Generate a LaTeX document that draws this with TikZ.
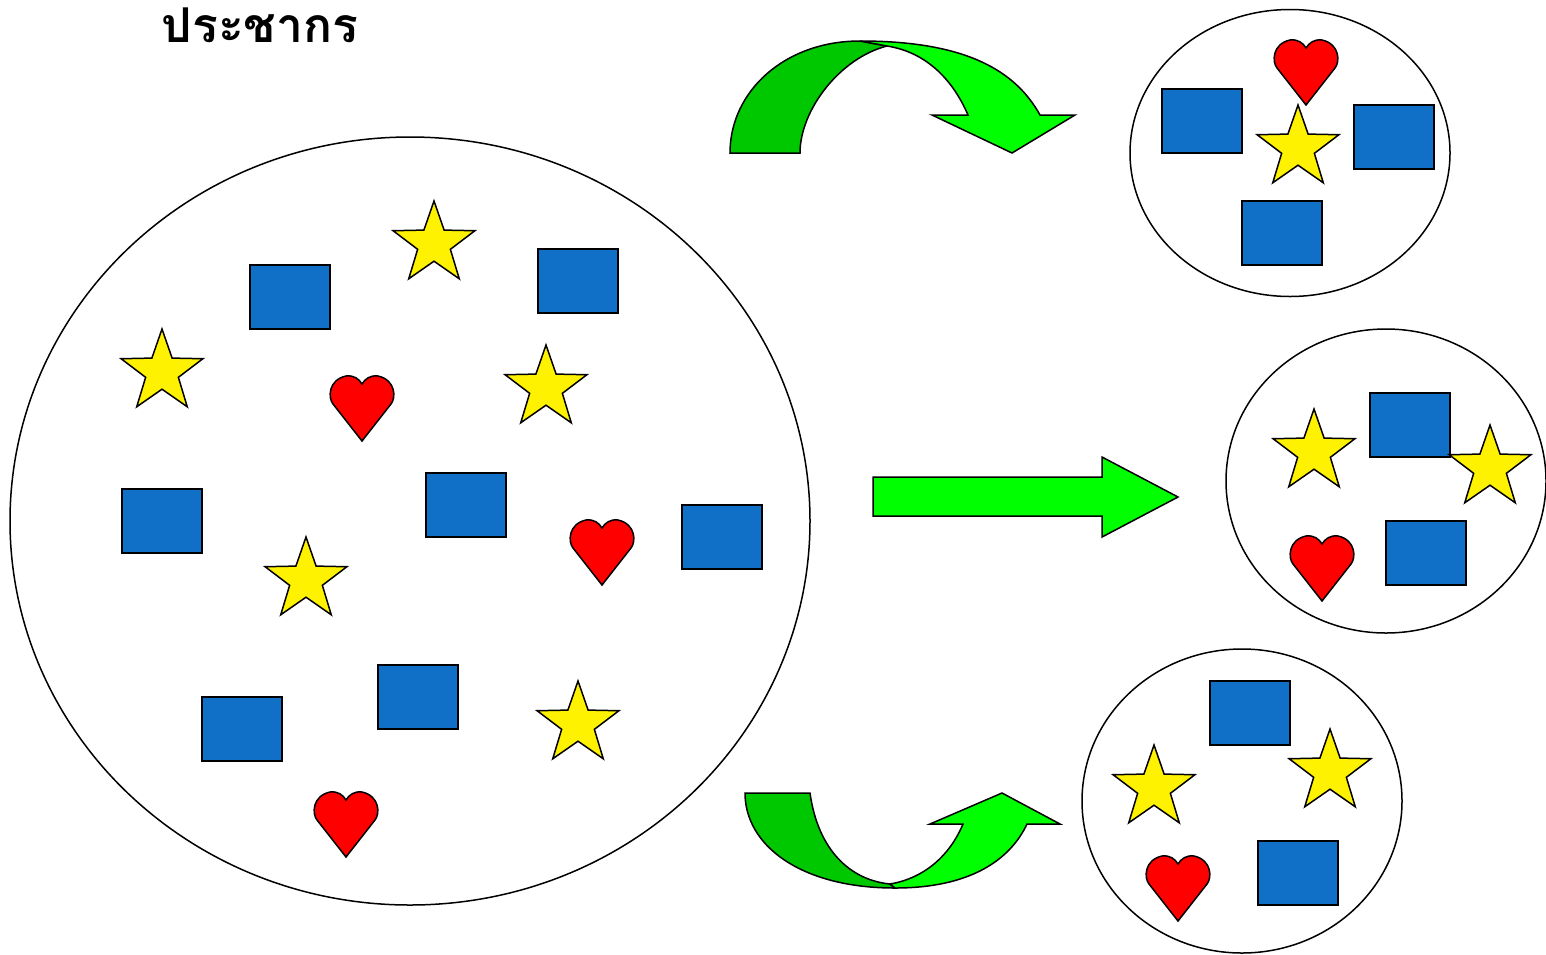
\documentclass[tikz,border=0pt]{standalone}
\usepackage{fontspec}
\newfontfamily\thaifont[Script=Thai]{Loma}
\usetikzlibrary{shapes.geometric}
\definecolor{sqblue}{RGB}{16,112,200}
\definecolor{darkgrn}{RGB}{0,200,0}
\definecolor{litegrn}{RGB}{0,255,0}
\tikzset{
  sqbox/.style={draw, line width=1.5pt, fill=sqblue, minimum width=80pt, minimum height=64pt, inner sep=0pt},
  starbox/.style={draw, line width=1.5pt, fill=yellow, star, star points=5, star point ratio=2.5, minimum size=86pt, inner sep=0pt},
  group/.style={draw, line width=1.5pt, ellipse, inner sep=0pt},
  arrowband/.style={draw, line width=1.5pt, line join=miter},
  heart/.pic={
    \filldraw[fill=red, line width=1.5pt] (0,33) -- (-29,-4)
      .. controls (-34,-10) and (-34,-28) .. (-16,-32)
      .. controls (-8,-33) and (-3,-29) .. (0,-24)
      .. controls (3,-29) and (8,-33) .. (16,-32)
      .. controls (34,-28) and (34,-10) .. (29,-4) -- cycle;
  }
}
\begin{document}
\begin{tikzpicture}[x=1pt, y=-1pt]
    \useasboundingbox (0,0) rectangle (1546,954);
    \fill[white] (0,0) rectangle (1546,954);

    % Title
    \node[font=\thaifont\bfseries\fontsize{48}{54}\selectfont] (title) at (260,25) {ประชากร};

    % Population and samples
    \node[group, minimum width=800pt, minimum height=768pt] (pop) at (410,521) {};
    \node[group, minimum width=320pt, minimum height=287pt] (sampA) at (1290,153) {};
    \node[group, minimum width=320pt, minimum height=304pt] (sampB) at (1386,481) {};
    \node[group, minimum width=320pt, minimum height=304pt] (sampC) at (1242,801) {};

    % Squares
    \foreach \x/\y [count=\i] in {290/297, 578/281, 162/521, 466/505, 722/537, 418/697, 242/729,
        1202/121, 1394/137, 1282/233, 1410/425, 1426/553, 1250/713, 1298/873}
      \node[sqbox] (sq\i) at (\x,\y) {};

    % Stars
    \foreach \x/\y [count=\i] in {434/244, 162/372, 546/388, 306/580, 578/724,
        1298/148, 1314/452, 1490/468, 1154/788, 1330/772}
      \node[starbox] (st\i) at (\x,\y) {};

    % Hearts
    \foreach \x/\y in {362/408, 602/552, 346/824, 1306/72, 1322/568, 1178/888}
      \pic at (\x,\y) {heart};

    % Curved arrow, top
    \filldraw[arrowband, fill=darkgrn] (730,153) .. controls (730,91) and (785,41) .. (860,41)
      -- (887,46) .. controls (840,58) and (800,110) .. (800,153) -- cycle;
    \filldraw[arrowband, fill=litegrn] (860,41) .. controls (965,41) and (1015,70) .. (1040,115)
      -- (1075,115) -- (1012,153) -- (932,115) -- (968,115)
      .. controls (952,78) and (925,52) .. (887,46) -- cycle;

    % Straight arrow
    \filldraw[arrowband, fill=litegrn] (873,477) -- (1102,477) -- (1102,457) -- (1178,497)
      -- (1102,537) -- (1102,516) -- (873,516) -- cycle;

    % Curved arrow, bottom
    \filldraw[arrowband, fill=darkgrn] (745,793) .. controls (745,845) and (800,888) .. (895,888)
      -- (890,884) .. controls (850,880) and (818,850) .. (810,793) -- cycle;
    \filldraw[arrowband, fill=litegrn] (895,888) .. controls (970,888) and (1010,860) .. (1027,824)
      -- (1060,824) -- (1002,793) -- (930,824) -- (963,824)
      .. controls (950,855) and (925,878) .. (890,884) -- cycle;
\end{tikzpicture}
\end{document}
